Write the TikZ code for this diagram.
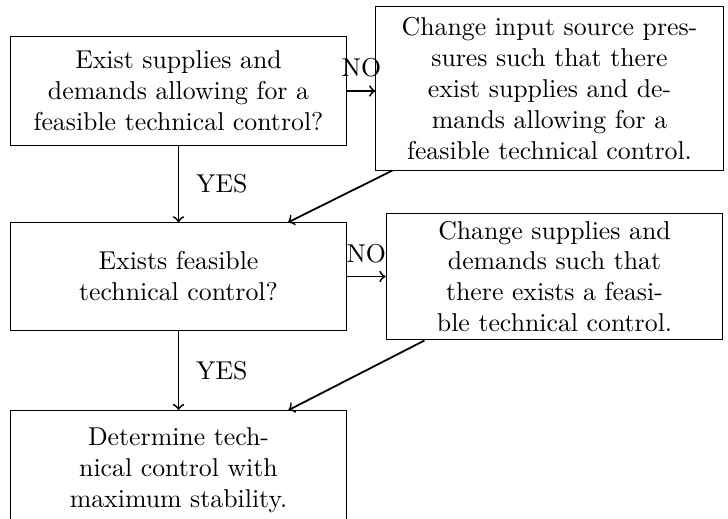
\documentclass[tikz,border=0pt]{standalone}
\begin{document}
\begin{tikzpicture}[x=0.3876pt,y=-0.3876pt,
  box/.style={draw,line width=0.4pt,align=center,inner sep=0pt},
  arr/.style={->,line width=0.7pt},
  lbl/.style={inner sep=0pt}]
\useasboundingbox (0,0) rectangle (728,518);
\clip (0,0) rectangle (728,518);
\node[box,minimum width=130.6pt,minimum height=41.9pt] (b1) at (178.5,91)
  {Exist supplies and\\demands allowing for a\\feasible technical control?};
\node[box,minimum width=134.6pt,minimum height=63.2pt] (b2) at (549.5,88.5)
  {Change input source pres-\\sures such that there\\exist supplies and de-\\mands allowing for a\\feasible technical control.};
\node[box,minimum width=130.2pt,minimum height=41.5pt] (b3) at (178.5,276.5)
  {Exists feasible\\technical control?};
\node[box,minimum width=130.6pt,minimum height=49.2pt] (b4) at (554.5,276.5)
  {Change supplies and\\demands such that\\there exists a feasi-\\ble technical control.};
\node[box,minimum width=130.6pt,minimum height=46pt] (b5) at (178.5,470)
  {Determine tech-\\nical control with\\maximum stability.};
\draw[arr] (b1.east) -- (b1.east -| b2.west) node[lbl,midway,above=5pt] {NO};
\draw[arr] (b3.east) -- (b3.east -| b4.west) node[lbl,midway,above=5pt] {NO};
\draw[arr] (b1.south) -- (b3.north) node[lbl,midway,right=6.5pt] {YES};
\draw[arr] (b3.south) -- (b5.north) node[lbl,midway,right=6.5pt] {YES};
\draw[arr] ([xshift=6.6pt]b2.south west) -- ([xshift=-22.9pt]b3.north east);
\draw[arr] ([xshift=15.1pt]b4.south west) -- ([xshift=-22.9pt]b5.north east);
\end{tikzpicture}
\end{document}
